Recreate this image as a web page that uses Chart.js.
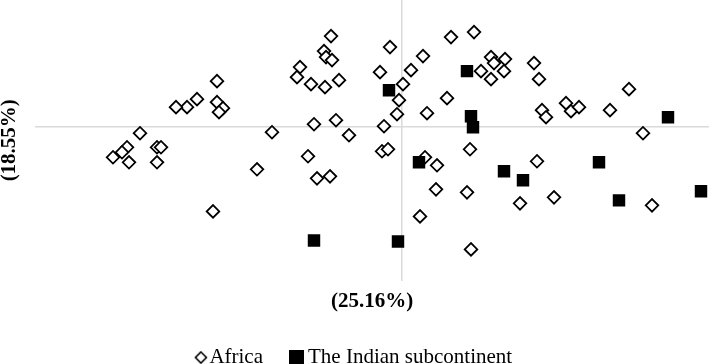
<!DOCTYPE html>
<html>
<head>
<meta charset="utf-8">
<script src="https://cdn.jsdelivr.net/npm/chart.js@4/dist/chart.umd.min.js"></script>
<style>
  html, body { margin: 0; padding: 0; background: #fff; overflow: hidden; }
  #wrap { position: relative; width: 709px; height: 378px; }
</style>
</head>
<body>
<div id="wrap"><canvas id="scatterChart"></canvas></div>
<script>
'use strict'

/* data */
const seriesNames = ['Africa', 'The Indian subcontinent'];
const axisTitles = ['(25.16%)', '(18.55%)'];

const africaX = [-10.2, -10.5, -9.1, -18.5, -20.5, -21.5, -22.6, -18.5, -17.9, -18.3,
  -26.2, -13.0, -27.5, -28.0, -28.9, -27.3, -24.5, -24.1, -24.5, -18.9,
  -14.5, -9.4, -7.1, -1.2, -7.8, -7.6, -7.0, -7.7, -6.3, -2.2,
  0.9, 2.1, 4.9, 7.2, 8.9, 9.2, 10.3, 10.2, 7.9, 8.9,
  0.1, -0.3, -0.5, 2.5, 4.5, -8.8, -6.6, -5.3, -1.8, -2.0,
  -1.4, 6.8, 13.2, 13.7, 14.0, 14.4, 16.4, 16.9, 17.7, 20.8,
  22.7, 24.1, -8.5, -7.2, 2.3, 3.5, 3.4, 6.5, 1.8, 6.9,
  13.5, 11.8, 15.2, 25.0];
const africaY = [6.0, 5.0, 4.3, 4.6, 2.8, 2.0, 2.0, 2.5, 1.9, 1.5,
  -0.6, -0.5, -2.0, -2.5, -3.0, -3.5, -2.0, -2.0, -3.5, -8.4,
  -4.2, -2.9, 9.1, 8.0, 7.6, 7.0, 6.7, 4.0, 4.7, 5.5,
  5.7, 7.1, 9.0, 9.5, 7.0, 6.4, 6.8, 5.6, 5.6, 4.8,
  4.3, 2.7, 1.3, 1.4, 2.9, 0.3, 0.7, -0.8, 0.1, -2.4,
  -2.2, -2.2, 6.4, 4.8, 1.7, 1.0, 2.4, 1.6, 2.0, 1.7,
  3.8, -0.6, -5.1, -4.9, -3.0, -3.8, -6.2, -6.5, -8.9, -12.2,
  -3.4, -7.6, -7.0, -7.8];

const indianX = [-1.3, 6.5, 6.9, 7.1, 26.6, 1.7, 10.2, 12.1, 19.7, 21.7, 29.9, -8.8, -0.4];
const indianY = [3.7, 5.6, 1.1, 0.0, 1.0, -3.5, -4.4, -5.3, -3.5, -7.3, -6.4, -11.3, -11.4];

const xRange = [-36.7, 30.7];
const yRange = [-15.3, 12.7];

function toPoints(xs, ys){
  return xs.map((x, i) => ({ x: x, y: ys[i] }));
}

/* little marker pictures for the legend */
function legendMarker(kind){
  const c = document.createElement('canvas');
  if(kind == 'diamond'){
    c.width = 20; c.height = 14;
    const g = c.getContext('2d');
    g.strokeStyle = '#000';
    g.lineWidth = 1.6;
    g.beginPath();
    g.moveTo(13, 1.5); g.lineTo(18.5, 7); g.lineTo(13, 12.5); g.lineTo(7.5, 7);
    g.closePath();
    g.stroke();
  } else {
    c.width = 15; c.height = 15;
    const g = c.getContext('2d');
    g.fillStyle = '#000';
    g.fillRect(0, 0, 15, 15);
  }
  return c;
}
const markers = [legendMarker('diamond'), legendMarker('square')];

const zeroOnly = (scale) => { scale.ticks = [{ value: 0 }]; };

const data = {
  datasets: [{
    label: seriesNames[0],
    data: toPoints(africaX, africaY),
    pointStyle: 'rectRot',
    pointRadius: 6.3,
    pointHoverRadius: 6.3,
    backgroundColor: '#fff',
    borderColor: '#000',
    borderWidth: 1.8,
    order: 1
  }, {
    label: seriesNames[1],
    data: toPoints(indianX, indianY),
    pointStyle: 'rect',
    pointRadius: 8.8,
    pointHoverRadius: 8.8,
    backgroundColor: '#000',
    borderColor: '#000',
    borderWidth: 0,
    order: 0
  }]
};

const config = {
  type: 'scatter',
  data: data,
  options: {
    responsive: false,
    animation: false,
    events: [],
    layout: { padding: 0, autoPadding: false },
    scales: {
      x: {
        type: 'linear',
        position: 'bottom',
        min: xRange[0],
        max: xRange[1],
        afterBuildTicks: zeroOnly,
        afterFit: (s) => { s.height = 34; },
        ticks: { display: false },
        border: { display: false },
        grid: { color: '#d9d9d9', lineWidth: 1.5, drawTicks: false },
        title: {
          display: true,
          text: axisTitles[0],
          color: '#000',
          padding: 0,
          font: { family: 'Liberation Serif', size: 21, weight: 'bold' }
        }
      },
      y: {
        type: 'linear',
        min: yRange[0],
        max: yRange[1],
        afterBuildTicks: zeroOnly,
        afterFit: (s) => { s.width = 35; },
        ticks: { display: false },
        border: { display: false },
        grid: { color: '#d9d9d9', lineWidth: 1.5, drawTicks: false },
        title: {
          display: true,
          text: axisTitles[1],
          color: '#000',
          padding: 0,
          font: { family: 'Liberation Serif', size: 21, weight: 'bold', lineHeight: 0.9 }
        }
      }
    },
    plugins: {
      tooltip: { enabled: false },
      legend: {
        display: true,
        position: 'bottom',
        labels: {
          usePointStyle: true,
          boxWidth: 2,
          boxHeight: 2,
          padding: 32.5,
          color: '#000',
          font: { family: 'Liberation Serif', size: 21 },
          generateLabels: (chart) => seriesNames.map((name, i) => ({
            text: name,
            pointStyle: markers[i],
            fillStyle: '#000',
            strokeStyle: '#000',
            lineWidth: 0,
            hidden: false,
            datasetIndex: i
          }))
        }
      }
    }
  }
};

const cv = document.getElementById('scatterChart');
cv.width = 709;
cv.height = 378;
const chart = new Chart(cv.getContext('2d'), config);
</script>
</body>
</html>
